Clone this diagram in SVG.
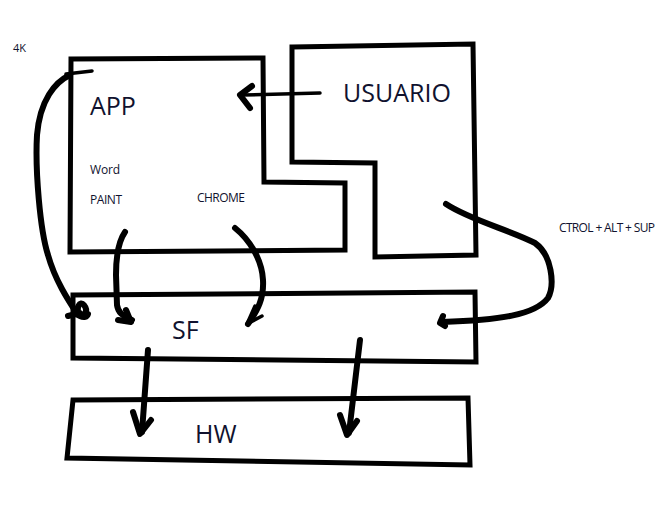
<svg xmlns="http://www.w3.org/2000/svg" width="666" height="515" viewBox="0 0 666 515">
<style>
.box{fill:none;stroke:#000;stroke-width:5;stroke-linejoin:miter}
.arr{fill:none;stroke:#000;stroke-width:6;stroke-linecap:round;stroke-linejoin:round}
.thin{fill:none;stroke:#000;stroke-width:3.5;stroke-linecap:round;stroke-linejoin:round}
text{font-family:"Open Sans","Noto Sans",sans-serif;fill:#10122e}
.big{font-size:25px}
.sm{font-size:12px}
</style>
<rect width="666" height="515" fill="#fff"/>
<g id="app">
<path class="box" d="M71,59 L263,58 L264,182 L345,183 L345,250 L70,252 Z"/>
<text class="big" x="90" y="115">APP</text>
<text class="sm" x="90" y="174" textLength="30">Word</text>
<text class="sm" x="90" y="204" textLength="32">PAINT</text>
<text class="sm" x="197" y="202" textLength="48">CHROME</text>
</g>
<g id="usuario">
<path class="box" d="M292,47 L473,44 L476,255 L375,257 L375,163 L292,162 Z"/>
<text class="big" x="343" y="102">USUARIO</text>
</g>
<g id="sf">
<path class="box" d="M73,295 L475,292 L476,362 L73,358 Z"/>
<text class="big" x="172" y="339">SF</text>
</g>
<g id="hw">
<path class="box" d="M73,400 L468,398 L470,465 L67,458 Z"/>
<text class="big" x="195" y="443">HW</text>
</g>
<text id="label-4k" x="13" y="52" style="font-size:11px">4K</text>
<text id="label-ctrl" class="sm" x="559" y="232" textLength="96">CTROL + ALT + SUP</text>
<g id="connectors">
<!-- 4K arrow -->
<path class="thin" d="M92,71 L66,74"/>
<path class="arr" d="M70,75 C55,82 40,100 37,135 C35,170 40,230 48,255 C55,280 68,300 78,315"/>
<path class="arr" d="M68,316 L80,313 C86,318 88,310 84,305 C80,300 75,308 80,316 C84,318 87,317 88,314"/>
<!-- USUARIO -> APP -->
<path class="thin" d="M320,93 L243,95"/>
<path class="arr" d="M252,86 L240,95 L250,108"/>
<!-- PAINT -> SF -->
<path class="arr" d="M125,232 C118,242 116,258 116,275 L117,305 C118,312 122,316 132,320"/>
<path class="arr" d="M126,310 L131,322 L118,320"/>
<!-- CHROME -> SF -->
<path class="arr" d="M235,228 C250,240 262,260 263,280 C264,298 258,310 248,324"/>
<path class="thin" d="M255,306 L247,324 L262,316"/>
<!-- CTRL+ALT+SUP -> SF -->
<path class="arr" d="M446,204 C470,220 510,230 535,243 C552,255 555,285 548,298 C535,315 500,320 442,322"/>
<path class="arr" d="M443,316 L440,323 L445,326"/>
<!-- SF -> HW -->
<path class="arr" d="M148,350 L142,432"/>
<path class="arr" d="M133,412 L140,434 L151,420"/>
<path class="arr" d="M360,340 L349,433"/>
<path class="arr" d="M340,415 L347,435 L357,421"/>
</g>
</svg>
